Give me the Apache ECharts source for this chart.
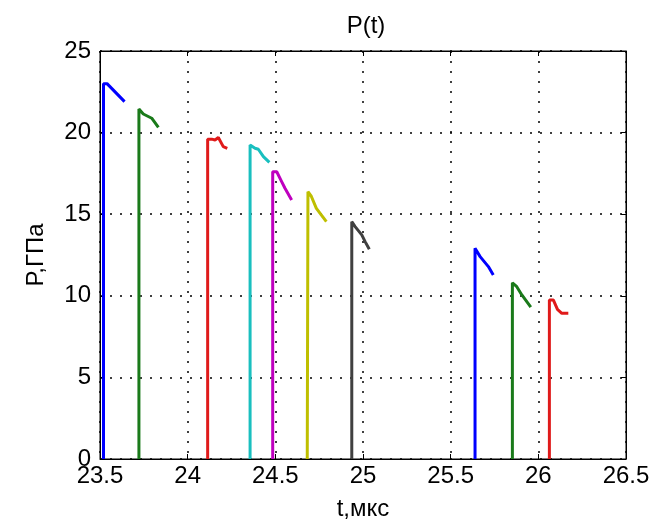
<!DOCTYPE html>
<html>
<head>
<meta charset="utf-8">
<script src="https://cdn.jsdelivr.net/npm/echarts@6/dist/echarts.min.js"></script>
<style>
  html, body { margin: 0; padding: 0; background: #fff; }
  #chart { width: 653px; height: 527px; }
</style>
</head>
<body>
<div id="chart"></div>
<script>
// Pressure pulses P (GPa) versus time t (µs); each pulse rises from zero and decays.
const xTicks = [23.5, 24, 24.5, 25, 25.5, 26, 26.5];
const yTicks = [0, 5, 10, 15, 20, 25];

const pulse1 = [[23.52, 0], [23.52, 23.0], [23.54, 23.0], [23.64, 21.9]];
const pulse2 = [[23.722, 0], [23.722, 21.45], [23.747, 21.14], [23.795, 20.88], [23.833, 20.32]];
const pulse3 = [[24.114, 0], [24.114, 19.6], [24.137, 19.6], [24.156, 19.55], [24.175, 19.7], [24.203, 19.14], [24.226, 19.04]];
const pulse4 = [[24.356, 0], [24.356, 19.24], [24.384, 19.04], [24.403, 18.98], [24.432, 18.53], [24.466, 18.18]];
const pulse5 = [[24.485, 0], [24.485, 17.6], [24.508, 17.6], [24.536, 17.0], [24.555, 16.59], [24.593, 15.87]];
const pulse6 = [[24.682, 0], [24.686, 16.38], [24.705, 16.1], [24.734, 15.36], [24.791, 14.54]];
const pulse7 = [[24.936, 0], [24.936, 14.54], [24.955, 14.24], [24.993, 13.73], [25.012, 13.32], [25.036, 12.85]];
const pulse8 = [[25.639, 0], [25.639, 12.91], [25.668, 12.40], [25.715, 11.79], [25.743, 11.27]];
const pulse9 = [[25.852, 0], [25.852, 10.8], [25.877, 10.56], [25.906, 10.05], [25.957, 9.30]];
const pulse10 = [[26.063, 0], [26.063, 9.74], [26.086, 9.74], [26.109, 9.17], [26.134, 8.93], [26.171, 8.93]];

const pulses = [pulse1, pulse2, pulse3, pulse4, pulse5, pulse6, pulse7, pulse8, pulse9, pulse10];
const colors = ['#0000ff', '#1a7a1a', '#e01a1a', '#19bfbf', '#bf00bf', '#bfbf00', '#404040', '#0000ff', '#1a7a1a', '#e01a1a'];

const font = 'Liberation Sans, Arial, sans-serif';
const labelStyle = { color: '#000', fontSize: 24, fontFamily: font };

const chart = echarts.init(document.getElementById('chart'), null, { renderer: 'canvas' });

const dotted = { show: true, lineStyle: { color: '#000', type: [2, 8], width: 1.5 } };
const edgeAxis = {
  axisLine: { show: true, onZero: false, lineStyle: { color: '#000', width: 1 } },
  axisTick: { show: true, inside: true, length: 5, lineStyle: { color: '#000' } }
};

chart.setOption({
  animation: false,
  backgroundColor: '#fff',
  title: {
    text: 'P(t)', left: 361, top: 9, textAlign: 'center',
    textStyle: { color: '#000', fontSize: 24, fontWeight: 'normal', fontFamily: font }
  },
  grid: { left: 100, right: 27, top: 51, bottom: 68, show: true, borderColor: '#000', borderWidth: 1, backgroundColor: '#fff' },
  xAxis: [Object.assign({
    type: 'value', min: 23.5, max: 26.5, interval: 0.5,
    name: 't,мкс', nameLocation: 'middle', nameGap: 38,
    nameTextStyle: labelStyle,
    axisLabel: Object.assign({ margin: 5, formatter: v => xTicks.includes(v) ? String(v) : '' }, labelStyle),
    splitLine: dotted
  }, edgeAxis), Object.assign({
    type: 'value', min: 23.5, max: 26.5, interval: 0.5, position: 'top',
    axisLabel: { show: false }, splitLine: { show: false }
  }, edgeAxis)],
  yAxis: [Object.assign({
    type: 'value', min: 0, max: 25, interval: 5,
    name: 'P,ГПа', nameLocation: 'middle', nameGap: 52, nameRotate: 90,
    nameTextStyle: labelStyle,
    axisLabel: Object.assign({ margin: 9, formatter: v => yTicks.includes(v) ? String(v) : '' }, labelStyle),
    splitLine: dotted
  }, edgeAxis), Object.assign({
    type: 'value', min: 0, max: 25, interval: 5, position: 'right',
    axisLabel: { show: false }, splitLine: { show: false }
  }, edgeAxis)],
  series: pulses.map((d, i) => ({
    type: 'line', data: d, showSymbol: false, symbol: 'none',
    lineStyle: { color: colors[i], width: 3 },
    clip: true, z: 3
  }))
});
</script>
</body>
</html>
